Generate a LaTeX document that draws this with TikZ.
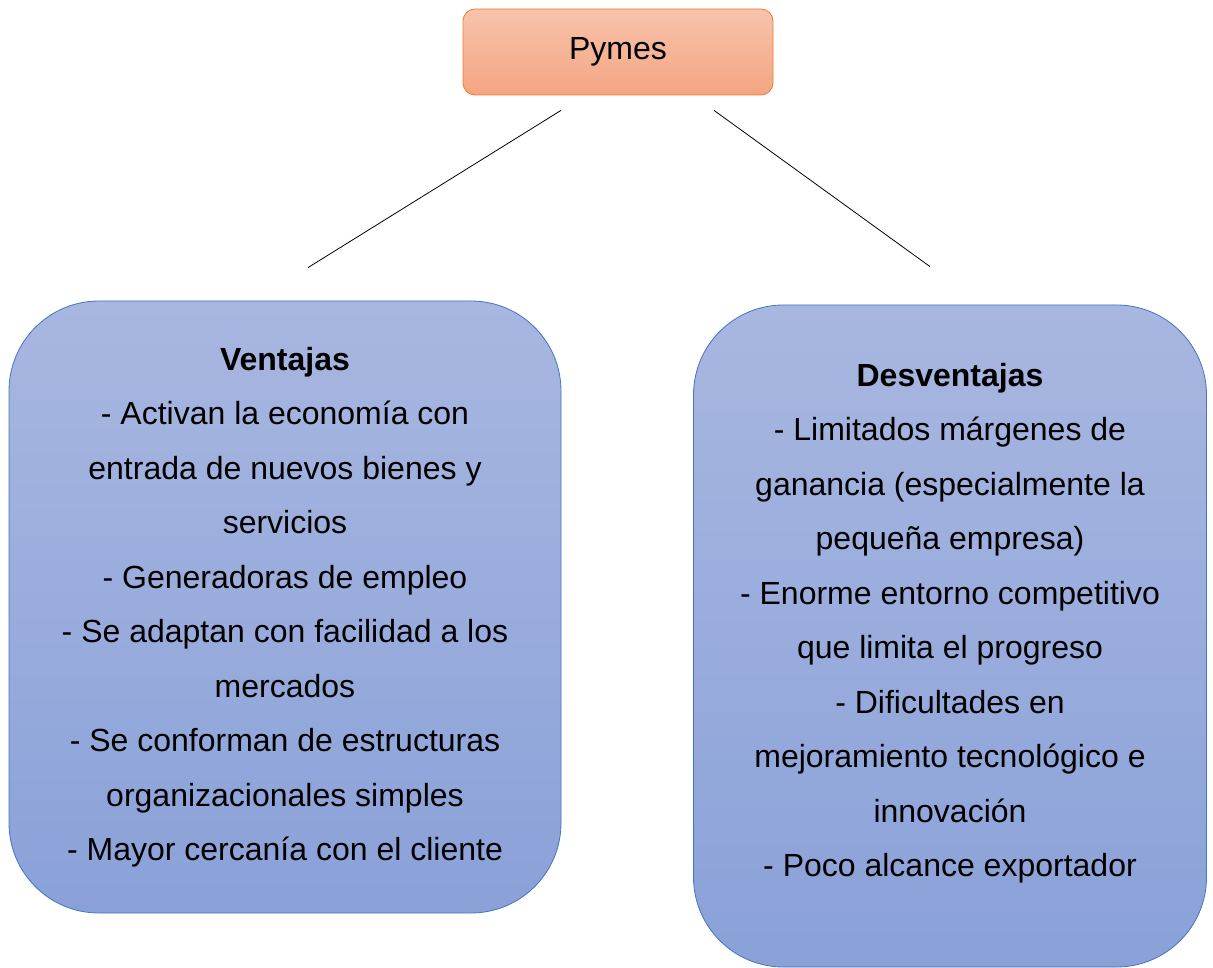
\documentclass[tikz,border=0pt]{standalone}
\usepackage{fontspec}
\setmainfont{Liberation Sans}
\definecolor{naranja}{HTML}{ED7D31}
\definecolor{naranjaA}{HTML}{F8C3AC}
\definecolor{naranjaB}{HTML}{F4A582}
\definecolor{azul}{HTML}{4472C4}
\definecolor{azulA}{HTML}{A8B7E0}
\definecolor{azulB}{HTML}{8AA1D8}
\begin{document}
\begin{tikzpicture}[x=1pt,y=-1pt,
	titulo/.style={draw=naranja,line width=.8pt,rounded corners=12pt,
		top color=naranjaA,bottom color=naranjaB,
		minimum width=310pt,minimum height=86pt,font=\fontsize{32}{38}\selectfont},
	cuadro/.style={draw=azul,line width=.8pt,rounded corners=90pt,
		top color=azulA,bottom color=azulB,align=center,
		font=\fontsize{32}{54.5}\selectfont},
	]
	\useasboundingbox (0,0) rectangle (1213,968);
	\node[titulo] (pymes) at (618,52) {Pymes};          % <<< raíz
	\node[cuadro,minimum width=552pt,minimum height=612pt]
	(ventajas) at (285,607)                               % <<< izquierda
	{\textbf{Ventajas}\\
		- Activan la economía con\\
		entrada de nuevos bienes y\\
		servicios\\
		- Generadoras de empleo\\
		- Se adaptan con facilidad a los\\
		mercados\\
		- Se conforman de estructuras\\
		organizacionales simples\\
		- Mayor cercanía con el cliente};
	\node[cuadro,minimum width=513pt,minimum height=662pt]
	(desventajas) at (950,636)                            % <<< derecha
	{\textbf{Desventajas}\\
		- Limitados márgenes de\\
		ganancia (especialmente la\\
		pequeña empresa)\\
		- Enorme entorno competitivo\\
		que limita el progreso\\
		- Dificultades en\\
		mejoramiento tecnológico e\\
		innovación\\
		- Poco alcance exportador\\[-22pt]\mbox{}};
	\coordinate (a1) at ([shift={(-57,15)}]pymes.south);
	\coordinate (a2) at ([shift={(23,-33)}]ventajas.north);
	\coordinate (b1) at ([shift={(96,15)}]pymes.south);
	\coordinate (b2) at ([shift={(-20,-38)}]desventajas.north);
	\draw[line width=.8pt] (a1)--(a2);
	\draw[line width=.8pt] (b1)--(b2);
\end{tikzpicture}
\end{document}
